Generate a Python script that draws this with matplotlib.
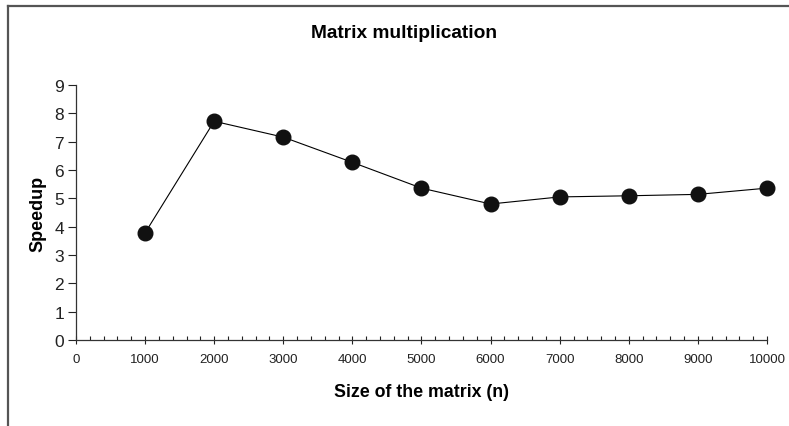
import matplotlib.pyplot as plt
from matplotlib.lines import Line2D
from matplotlib.ticker import MultipleLocator

# data
matrix_size = [1000, 2000, 3000, 4000, 5000, 6000, 7000, 8000, 9000, 10000]
speedup = [3.78, 7.72, 7.16, 6.27, 5.36, 4.80, 5.05, 5.09, 5.14, 5.36]

plt.rcParams['font.family'] = ['Liberation Sans', 'DejaVu Sans']

fig = plt.figure(figsize=(7.89, 4.27), dpi=100)
ax = fig.add_axes([0.0963, 0.2014, 0.8758, 0.5972])

ax.plot(matrix_size, speedup, color='black', lw=0.8, marker='o',
        markersize=10.5, markerfacecolor='#111111', markeredgecolor='#111111',
        clip_on=False, zorder=3)

ax.set_xlim(0, 10000)
ax.set_ylim(0, 9)
ax.xaxis.set_major_locator(MultipleLocator(1000))
ax.xaxis.set_minor_locator(MultipleLocator(200))
ax.yaxis.set_major_locator(MultipleLocator(1))

for side in ('top', 'right'):
    ax.spines[side].set_visible(False)
for side in ('left', 'bottom'):
    ax.spines[side].set_color('#333333')
    ax.spines[side].set_linewidth(0.9)

ax.tick_params(axis='y', direction='out', length=5.5, width=0.8,
               labelsize=12.5, pad=3, colors='#222222')
ax.tick_params(axis='x', which='major', direction='inout', length=6,
               width=0.8, labelsize=9.5, pad=6, colors='#222222')
ax.tick_params(axis='x', which='minor', direction='in', length=3,
               width=0.8, colors='#222222')

ax.set_xlabel('Size of the matrix (n)', fontsize=12.8, fontweight='bold',
              labelpad=13)
ax.set_ylabel('Speedup', fontsize=13, fontweight='bold', labelpad=6)
fig.text(0.512, 0.922, 'Matrix multiplication', ha='center', va='center',
         fontsize=13.8, fontweight='bold')

# frame around the figure (top and left edges only, as in the scan)
fig.add_artist(Line2D([0.0105, 1.0], [0.984, 0.984], transform=fig.transFigure,
                      color='#555555', lw=1.6))
fig.add_artist(Line2D([0.0105, 0.0105], [0.0, 0.984], transform=fig.transFigure,
                      color='#555555', lw=1.6))

fig.savefig('out.png', dpi=100)
